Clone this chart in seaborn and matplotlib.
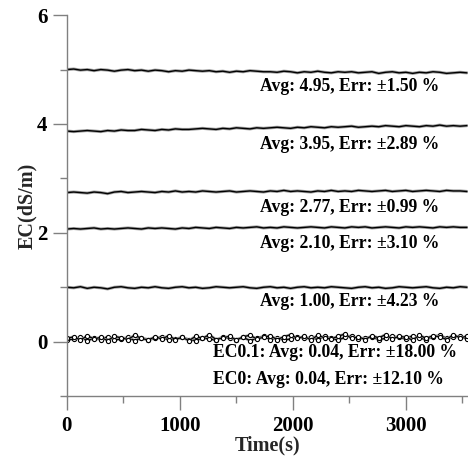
import matplotlib
matplotlib.use("Agg")
import matplotlib.pyplot as plt
import numpy as np
import seaborn as sns
from matplotlib.ticker import MultipleLocator

# sampling times (s)
time_s = list(range(0, 3600, 60))

ec_5 = [5.00, 5.01, 4.99, 5.00, 4.98, 5.00, 4.99, 4.97, 4.99, 5.00,
        4.98, 4.99, 4.97, 4.99, 4.98, 4.96, 4.98, 4.97, 4.99, 4.98,
        4.97, 4.98, 4.96, 4.97, 4.95, 4.97, 4.96, 4.98, 4.97, 4.96,
        4.96, 4.95, 4.97, 4.96, 4.94, 4.96, 4.95, 4.97, 4.95, 4.94,
        4.96, 4.95, 4.96, 4.94, 4.95, 4.96, 4.93, 4.95, 4.96, 4.94,
        4.95, 4.93, 4.95, 4.94, 4.96, 4.95, 4.93, 4.94, 4.95, 4.94]

ec_4 = [3.87, 3.86, 3.87, 3.88, 3.87, 3.86, 3.88, 3.87, 3.89, 3.88,
        3.88, 3.90, 3.89, 3.88, 3.90, 3.89, 3.91, 3.90, 3.90, 3.91,
        3.92, 3.91, 3.90, 3.92, 3.91, 3.93, 3.92, 3.91, 3.93, 3.92,
        3.93, 3.94, 3.93, 3.92, 3.94, 3.93, 3.95, 3.94, 3.93, 3.95,
        3.94, 3.95, 3.96, 3.94, 3.95, 3.96, 3.95, 3.97, 3.96, 3.95,
        3.97, 3.96, 3.95, 3.97, 3.96, 3.98, 3.96, 3.97, 3.96, 3.97]

ec_3 = [2.74, 2.75, 2.74, 2.73, 2.75, 2.74, 2.72, 2.75, 2.76, 2.74,
        2.75, 2.76, 2.75, 2.74, 2.76, 2.75, 2.77, 2.75, 2.76, 2.75,
        2.77, 2.76, 2.75, 2.76, 2.77, 2.75, 2.76, 2.77, 2.76, 2.75,
        2.77, 2.76, 2.78, 2.76, 2.77, 2.76, 2.75, 2.77, 2.76, 2.78,
        2.76, 2.77, 2.76, 2.78, 2.77, 2.76, 2.77, 2.78, 2.76, 2.77,
        2.78, 2.76, 2.77, 2.78, 2.77, 2.76, 2.78, 2.77, 2.77, 2.76]

ec_2 = [2.07, 2.08, 2.07, 2.08, 2.09, 2.07, 2.08, 2.07, 2.08, 2.09,
        2.08, 2.07, 2.09, 2.08, 2.09, 2.08, 2.07, 2.09, 2.08, 2.10,
        2.09, 2.08, 2.10, 2.09, 2.08, 2.10, 2.09, 2.10, 2.11, 2.09,
        2.10, 2.09, 2.11, 2.10, 2.09, 2.10, 2.11, 2.10, 2.09, 2.11,
        2.10, 2.09, 2.11, 2.10, 2.11, 2.09, 2.10, 2.11, 2.10, 2.09,
        2.11, 2.10, 2.11, 2.10, 2.09, 2.11, 2.10, 2.11, 2.10, 2.10]

ec_1 = [1.00, 0.99, 1.01, 0.98, 1.00, 0.99, 0.97, 1.00, 1.01, 0.99,
        0.98, 1.00, 0.99, 1.01, 0.99, 0.98, 1.00, 1.01, 0.99, 1.00,
        0.98, 0.99, 1.01, 1.00, 0.99, 1.00, 1.01, 0.99, 0.98, 1.00,
        1.01, 0.99, 1.00, 0.98, 1.00, 1.01, 0.99, 1.00, 0.99, 1.01,
        1.00, 0.99, 0.98, 1.00, 1.01, 0.99, 1.00, 0.98, 0.99, 1.01,
        1.00, 0.99, 1.00, 1.01, 0.99, 0.98, 1.00, 0.99, 1.01, 1.00]

ec_01 = [0.06, 0.09, 0.03, 0.11, 0.05, 0.08, 0.02, 0.10, 0.07, 0.04,
         0.12, 0.06, 0.03, 0.09, 0.05, 0.11, 0.04, 0.08, 0.02, 0.10,
         0.06, 0.13, 0.04, 0.07, 0.10, 0.03, 0.09, 0.12, 0.05, 0.08,
         0.11, 0.04, 0.09, 0.13, 0.06, 0.10, 0.03, 0.12, 0.07, 0.05,
         0.10, 0.14, 0.06, 0.09, 0.04, 0.11, 0.07, 0.13, 0.05, 0.10,
         0.08, 0.03, 0.12, 0.06, 0.11, 0.09, 0.04, 0.13, 0.07, 0.10]

ec_0 = [0.03, 0.05, 0.08, 0.02, 0.06, 0.04, 0.09, 0.03, 0.05, 0.08,
        0.02, 0.07, 0.04, 0.06, 0.09, 0.03, 0.05, 0.08, 0.04, 0.02,
        0.07, 0.05, 0.03, 0.09, 0.06, 0.04, 0.08, 0.02, 0.06, 0.10,
        0.04, 0.07, 0.03, 0.05, 0.09, 0.06, 0.08, 0.04, 0.10, 0.06,
        0.03, 0.08, 0.11, 0.05, 0.07, 0.09, 0.04, 0.06, 0.10, 0.08,
        0.05, 0.11, 0.07, 0.04, 0.09, 0.12, 0.06, 0.08, 0.10, 0.05]

labels = ["Avg: 4.95, Err: \u00b11.50 %",
          "Avg: 3.95, Err: \u00b12.89 %",
          "Avg: 2.77, Err: \u00b10.99 %",
          "Avg: 2.10, Err: \u00b13.10 %",
          "Avg: 1.00, Err: \u00b14.23 %",
          "EC0.1: Avg: 0.04, Err: \u00b118.00 %",
          "EC0: Avg: 0.04, Err: \u00b112.10 %"]
label_x = [1708, 1708, 1708, 1708, 1708, 1292, 1292]
label_y = [4.68, 3.63, 2.47, 1.80, 0.74, -0.19, -0.69]


def format_plot():
    sns.set_style("white")
    plt.rcParams["font.family"] = ["Liberation Serif", "DejaVu Serif"]
    plt.rcParams["font.weight"] = "bold"
    plt.rcParams["axes.edgecolor"] = "#808080"
    plt.rcParams["axes.linewidth"] = 1.0
    plt.rcParams["xtick.bottom"] = True
    plt.rcParams["ytick.left"] = True
    plt.rcParams["xtick.color"] = "#808080"
    plt.rcParams["ytick.color"] = "#808080"
    plt.rcParams["xtick.labelcolor"] = "black"
    plt.rcParams["ytick.labelcolor"] = "black"


format_plot()
fig = plt.figure(figsize=(4.68, 4.59), dpi=100)
ax = fig.add_axes([0.143, 0.137, 0.857, 0.830])

for vals in [ec_5, ec_4, ec_3, ec_2, ec_1]:
    sns.lineplot(x=time_s, y=vals, ax=ax, color="#a0a0a0", linewidth=2.2)
    sns.lineplot(x=time_s, y=vals, ax=ax, color="black", linewidth=1.0)

for vals in [ec_0, ec_01]:
    sns.lineplot(x=time_s, y=vals, ax=ax, color="#a0a0a0", linewidth=2.0)
    sns.lineplot(x=time_s, y=vals, ax=ax, color="black", linewidth=0.9,
                 marker="o", markersize=3.0, markerfacecolor="white",
                 markeredgecolor="black", markeredgewidth=0.8)

for txt, x, y in zip(labels, label_x, label_y):
    ax.text(x, y, txt, ha="left", va="center", fontsize=12.7,
            fontweight="bold", color="black")

ax.set_xlim(0, 3550)
ax.set_ylim(-1, 6)
ax.xaxis.set_minor_locator(MultipleLocator(500))
ax.yaxis.set_minor_locator(MultipleLocator(1))
ax.set_yticks([6, 4, 2, 0])
ax.set_yticklabels(["6", "4", "2", "0"])
ax.set_xticks([0, 1000, 2000, 3000])
ax.set_xticklabels(["0", "1000", "2000", "3000"])
ax.tick_params(which="major", length=10, width=1, direction="out",
               labelsize=15, pad=4, bottom=True, left=True)
ax.tick_params(which="minor", length=5, width=1, direction="out",
               bottom=True, left=True)
for lbl in ax.get_xticklabels() + ax.get_yticklabels():
    lbl.set_fontweight("bold")

sns.despine(ax=ax, top=True, right=True)
ax.set_xlabel("Time(s)", fontsize=14.5, fontweight="bold", labelpad=0)
ax.set_ylabel("EC(dS/m)", fontsize=14.5, fontweight="bold", labelpad=0)

fig.savefig("out.png", dpi=100)
